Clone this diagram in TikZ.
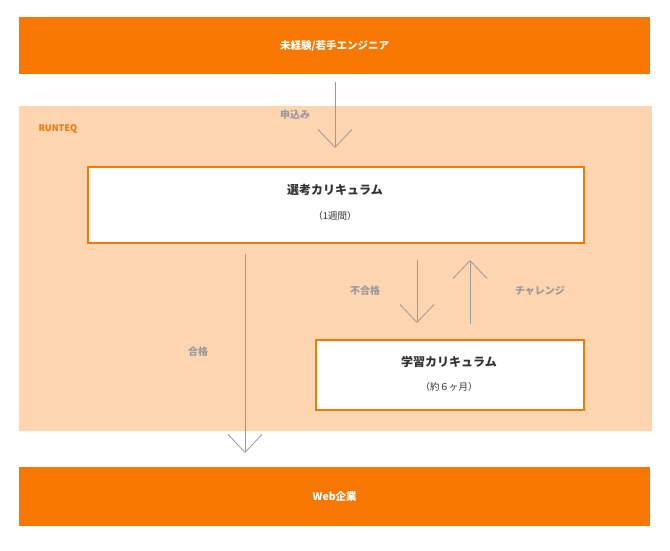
\documentclass[tikz,border=0pt]{standalone}
\usepackage{fontspec}
\newfontfamily\jp{Noto Sans CJK JP}
\usetikzlibrary{arrows.meta}
\definecolor{org}{HTML}{F77700}
\definecolor{peach}{HTML}{FDD5B1}
\definecolor{gr}{HTML}{9A9A9A}
\definecolor{txt}{HTML}{333333}
\begin{document}
\begin{tikzpicture}[x=1pt,y=-1pt,
  bar/.style={fill=org,draw=none},
  wbox/.style={fill=white,draw=org,line width=1.5pt},
  arr/.style={draw=gr,line width=0.8pt,-{Straight Barb[length=18pt,width=34pt,line width=0.8pt]}},
  lab/.style={font=\jp\bfseries\fontsize{10}{12}\selectfont,text=gr}]
\useasboundingbox (0,0) rectangle (670,551);
\fill[peach] (19,106) rectangle (652,431);
\node[bar,minimum width=631pt,minimum height=57pt,anchor=north west,text=white,font=\jp\bfseries\fontsize{10.5}{12}\selectfont] (top) at (19,17) {未経験/若手エンジニア};
\node[bar,minimum width=631pt,minimum height=59pt,anchor=north west,text=white,font=\jp\bfseries\fontsize{10.5}{12}\selectfont] (web) at (19,467) {Web企業};
\node[anchor=west,text=org,font=\jp\bfseries\fontsize{9}{11}\selectfont] (rt) at (35,129) {RUNTEQ};
\node[wbox,minimum width=496pt,minimum height=76pt,anchor=north west] (sel) at (87,166) {};
\node[font=\jp\bfseries\fontsize{12}{14}\selectfont,text=txt] (selt) at (335,190) {選考カリキュラム};
\node[font=\jp\fontsize{9.5}{12}\selectfont,text=txt] (sels) at (335,216) {（1週間）};
\node[wbox,minimum width=268pt,minimum height=70pt,anchor=north west] (lrn) at (315,339) {};
\node[font=\jp\bfseries\fontsize{12}{14}\selectfont,text=txt] (lrnt) at (449,362) {学習カリキュラム};
\node[font=\jp\fontsize{9.5}{12}\selectfont,text=txt] (lrns) at (449,387) {（約６ヶ月）};
\coordinate (a1s) at (335,82); \coordinate (a1e) at (335,148);
\coordinate (a2s) at (245,254); \coordinate (a2e) at (245,453);
\coordinate (a3s) at (417,260); \coordinate (a3e) at (417,323);
\coordinate (a4s) at (470,324); \coordinate (a4e) at (470,260);
\draw[arr] (a1s) -- (a1e);
\draw[arr] (a2s) -- (a2e);
\draw[arr] (a3s) -- (a3e);
\draw[arr] (a4s) -- (a4e);
\node[lab] (l1) at (295,115) {申込み};
\node[lab] (l2) at (365,291) {不合格};
\node[lab] (l3) at (540,291) {チャレンジ};
\node[lab] (l4) at (198,352) {合格};
\end{tikzpicture}
\end{document}
